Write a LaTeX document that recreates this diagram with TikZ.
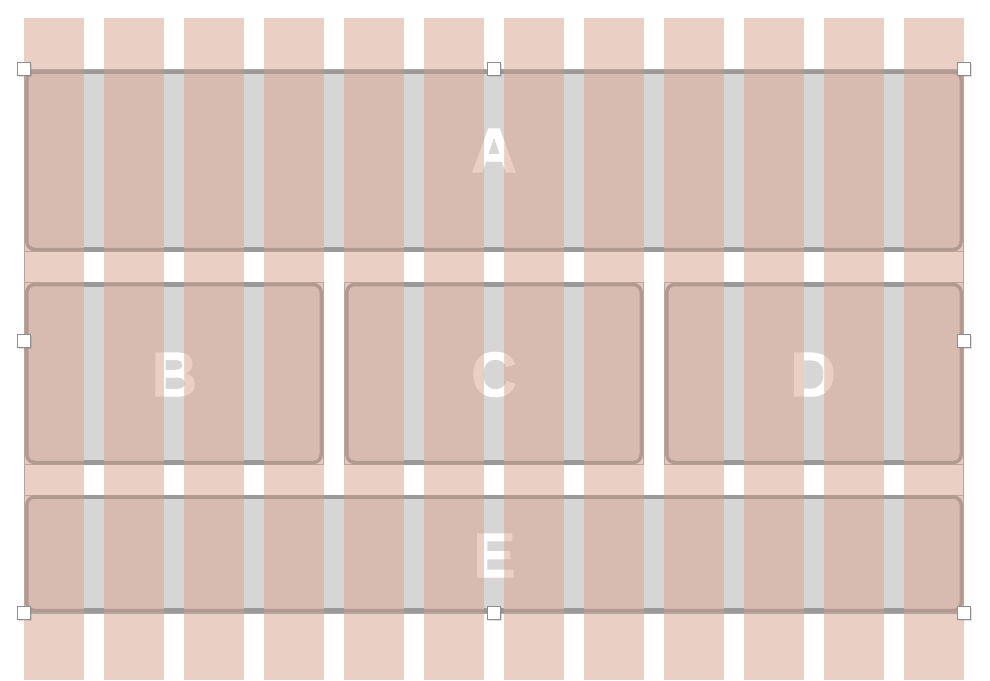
\documentclass[tikz,border=0pt]{standalone}
\usepackage{fontspec}
\setmainfont{Liberation Sans}
\newfontfamily\heavyfont[FakeBold=1.6]{Liberation Sans}
\usetikzlibrary{shadows}
\definecolor{colpink}{HTML}{E9CFC4}
\definecolor{cornerfill}{HTML}{E3C8BD}
\definecolor{boxfill}{HTML}{D7BBB0}
\definecolor{boxline}{HTML}{B39A91}
\definecolor{outerline}{HTML}{BBA59C}
\definecolor{gapgray}{HTML}{D6D6D6}
\definecolor{gapline}{HTML}{999999}
\definecolor{handleline}{HTML}{8E8E8E}
\definecolor{frameline}{HTML}{B3A5A0}
\tikzset{
  column/.style={fill=colpink},
  roundbox/.style={fill=boxfill, draw=boxline, line width=3.5pt, rounded corners=8pt},
  outerbox/.style={fill=cornerfill, draw=outerline, line width=0.8pt},
  gapfill/.style={fill=gapgray},
  gapband/.style={fill=gapline},
  lettertext/.style={inner sep=0pt, font=\heavyfont\bfseries\fontsize{63}{63}\selectfont},
  handle/.style={draw=handleline, fill=white, line width=1pt, minimum size=13pt, inner sep=0pt,
    drop shadow={shadow xshift=1.2pt, shadow yshift=-1.2pt, opacity=0.25}},
}
% #1 x1, #2 y1, #3 x2, #4 y2, #5 first gap, #6 last gap
\newcommand\gridbox[6]{%
  \begin{scope}
    \clip \foreach \i in {0,...,11} {({24+80*\i},0) rectangle ({84+80*\i},680)};
    \path[outerbox] (#1+0.4,#2+0.4) rectangle (#3-0.4,#4-0.4);
    \path[roundbox] (#1+2.75,#2+2.5) rectangle (#3-2.75,#4-2.5);
  \end{scope}
  \foreach \g in {#5,...,#6}{
    \fill[gapfill] ({84+80*\g},#2) rectangle ({104+80*\g},#4);
    \fill[gapband] ({84+80*\g},#2) rectangle ({104+80*\g},#2+4.5);
    \fill[gapband] ({84+80*\g},#4-5) rectangle ({104+80*\g},#4);
  }%
}
\newcommand\boxletter[3]{%
  \node[lettertext, text=colpink] (#1p) at (#2) {#3};
  \begin{scope}
    \clip \foreach \g in {0,...,10} {({84+80*\g},0) rectangle ({104+80*\g},680)};
    \node[lettertext, text=white] (#1w) at (#2) {#3};
  \end{scope}%
}
\begin{document}
\begin{tikzpicture}[x=1pt,y=-1pt]
\useasboundingbox (0,0) rectangle (990,680);
\fill[white] (0,0) rectangle (990,680);
% columns
\foreach \i in {0,...,11} \fill[column] ({24+80*\i},18) rectangle ({84+80*\i},680);
% selection frame
\draw[frameline, line width=0.9pt] (24.5,69) rectangle (963.5,613);
% boxes
\gridbox{24}{69.5}{964}{252}{0}{10}
\gridbox{24}{282}{324}{465}{0}{2}
\gridbox{344}{282}{644}{465}{4}{6}
\gridbox{664}{282}{964}{465}{8}{10}
\gridbox{24}{494.5}{964}{613}{0}{10}
% letters
\boxletter{la}{494,150.5}{A}
\boxletter{lb}{174.5,374.5}{B}
\boxletter{lc}{494,374.5}{C}
\boxletter{ld}{813,374.5}{D}
\boxletter{le}{494.5,555.5}{E}
% handles
\node[handle] (h1) at (24,69) {};
\node[handle] (h2) at (494,69) {};
\node[handle] (h3) at (964,69) {};
\node[handle] (h4) at (24,341) {};
\node[handle] (h5) at (964,341) {};
\node[handle] (h6) at (24,613) {};
\node[handle] (h7) at (494,613) {};
\node[handle] (h8) at (964,613) {};
\end{tikzpicture}
\end{document}
